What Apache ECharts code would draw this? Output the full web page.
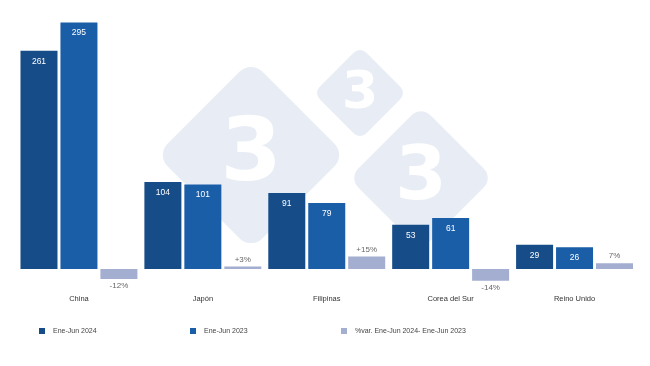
<!DOCTYPE html>
<html>
<head>
<meta charset="utf-8">
<script src="https://cdn.jsdelivr.net/npm/echarts@6/dist/echarts.min.js"></script>
<style>html,body{margin:0;padding:0;background:#fff}#c{width:650px;height:366px}</style>
</head>
<body>
<div id="c"></div>
<script>
var categories = ['China', 'Japón', 'Filipinas', 'Corea del Sur', 'Reino Unido'];
var seriesNames = ['Ene-Jun 2024', 'Ene-Jun 2023', '%var. Ene-Jun 2024- Ene-Jun 2023'];
var values2024 = [261, 104, 91, 53, 29];
var values2023 = [295, 101, 79, 61, 26];
var pctValues = [-12, 3, 15, -14, 7];
var pctLabels = ['-12%', '+3%', '+15%', '-14%', '7%'];

var colors = ['#164c88', '#1a5ea8', '#a3aed0'];
var chart = echarts.init(document.getElementById('c'));

function diamond(cx, cy, side, r, fs, dy) {
  return [
    {type: 'rect', x: cx, y: cy, rotation: Math.PI / 4, z: -10,
     shape: {x: -side / 2, y: -side / 2, width: side, height: side, r: r},
     style: {fill: '#e8edf5'}},
    {type: 'text', x: cx, y: cy + dy, z: -9,
     style: {text: '3', fill: '#ffffff', font: 'bold ' + fs + 'px "DejaVu Sans", sans-serif',
             textAlign: 'center', textVerticalAlign: 'middle'}}
  ];
}

var labelFont = '"Liberation Sans", Arial, sans-serif';
var valueLabel = {show: true, position: 'insideTop', distance: 6, color: '#ffffff', fontSize: 8.5, fontFamily: labelFont};

chart.setOption({
  animation: false,
  backgroundColor: '#ffffff',
  graphic: [].concat(diamond(251, 155, 134, 16, 88, 2), diamond(360, 93, 66, 9, 52, 1), diamond(421, 178, 102, 13, 74, 2)),
  grid: {left: 17, right: 13.5, top: 18.2, bottom: 80.3},
  legend: [0, 1, 2].map(function (i) {
    return {
      data: [seriesNames[i]], left: [39, 190, 341][i], top: 327.5, padding: 0,
      itemWidth: 6, itemHeight: 6, icon: 'rect', itemGap: 0,
      textStyle: {fontSize: 7, color: '#444', fontFamily: labelFont, padding: [0, 0, 0, 3]}
    };
  }),
  xAxis: {
    type: 'category', data: categories,
    axisLine: {show: false}, axisTick: {show: false},
    axisLabel: {color: '#333', fontSize: 7.5, fontFamily: labelFont, margin: 9}
  },
  yAxis: {type: 'value', min: -20, max: 300, show: false, splitLine: {show: false}},
  series: [
    {name: seriesNames[0], type: 'bar', data: values2024, barWidth: 37, barGap: '8%',
     itemStyle: {color: colors[0]}, label: valueLabel},
    {name: seriesNames[1], type: 'bar', data: values2023, barWidth: 37, barGap: '8%',
     itemStyle: {color: colors[1]}, label: valueLabel},
    {name: seriesNames[2], type: 'bar', barWidth: 37, barGap: '8%',
     itemStyle: {color: colors[2]},
     data: pctValues.map(function (v, i) {
       return {value: v, label: {position: v < 0 ? 'bottom' : 'top', formatter: pctLabels[i]}};
     }),
     label: {show: true, distance: 3, color: '#666', fontSize: 8, fontFamily: labelFont}}
  ]
});
</script>
</body>
</html>
